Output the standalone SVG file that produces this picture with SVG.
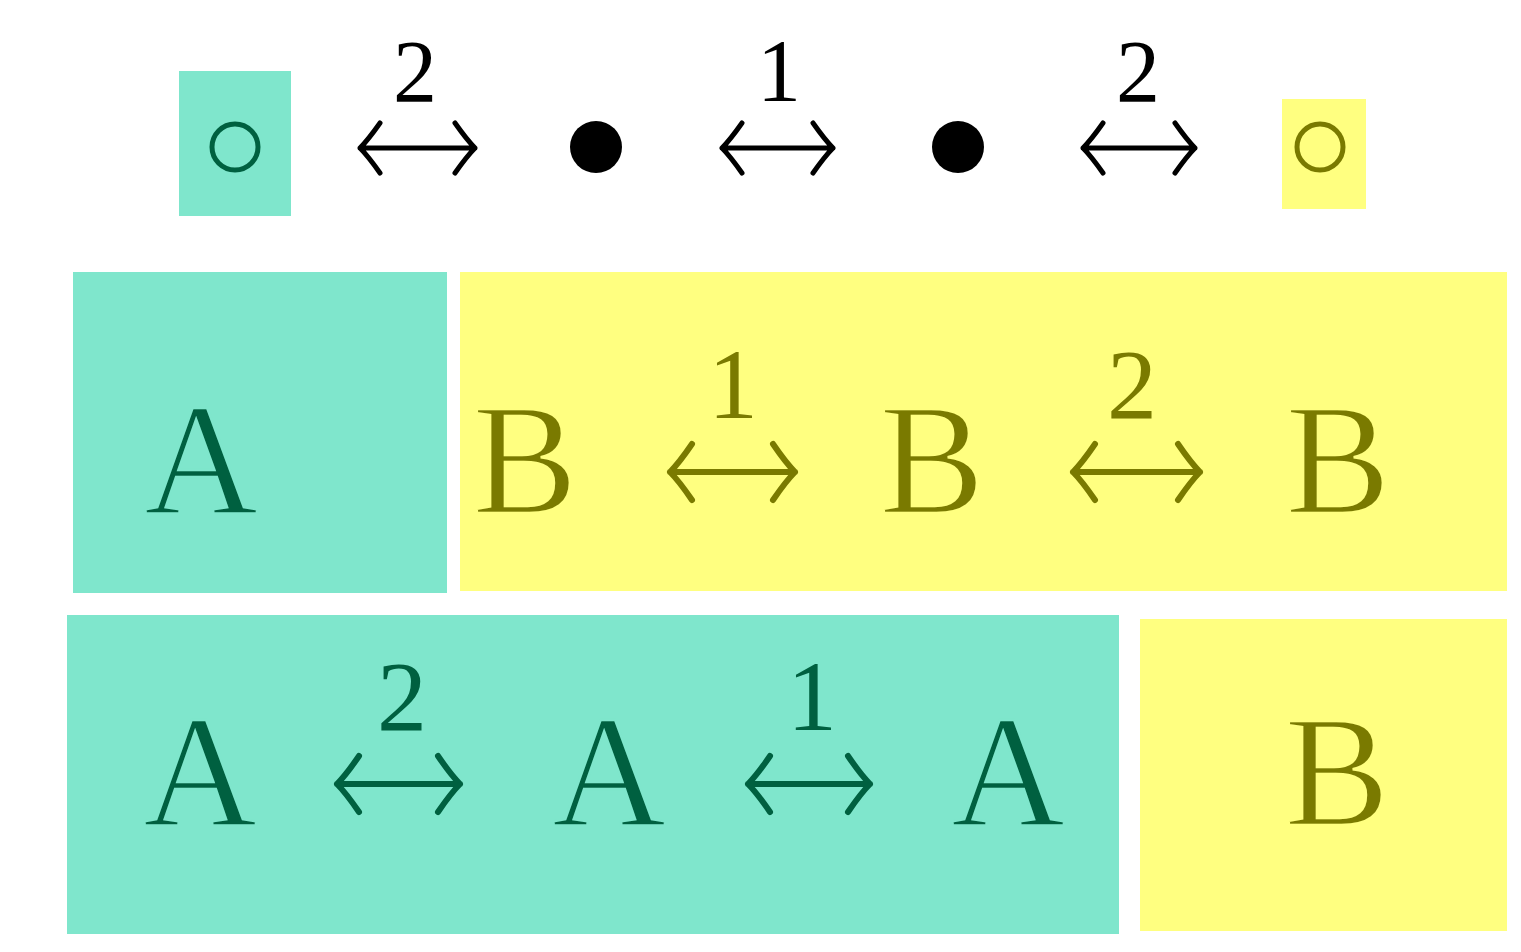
<svg xmlns="http://www.w3.org/2000/svg" width="1521" height="952" viewBox="0 0 1521 952">
<style>
.teal{fill:#7fe6cc}
.yel{fill:#ffff80}
.t{font-family:"Liberation Serif","Times New Roman",serif;text-anchor:middle}
.big{font-size:158px;stroke-width:2.5}
.lab{font-size:100px}
.top{font-size:88px}
.g{fill:#006040}
.o{fill:#7a7a00}
.big.g{stroke:#7fe6cc}
.big.o{stroke:#ffff80}
.k{fill:#000}
.arr{fill:none;stroke-linecap:round;stroke-linejoin:round}
.ag{stroke:#006040;stroke-width:6}
.ao{stroke:#7a7a00;stroke-width:6}
.ak{stroke:#000;stroke-width:5}
</style>
<rect width="1521" height="952" fill="#fff"/>
<g id="top-teal">
  <rect class="teal" x="179" y="71" width="112" height="145"/>
  <circle cx="235" cy="147" r="23" fill="none" stroke="#006040" stroke-width="5"/>
</g>
<g id="dot1"><circle cx="596" cy="147" r="26" fill="#000"/></g>
<g id="dot2"><circle cx="958" cy="147" r="26" fill="#000"/></g>
<g id="top-yellow">
  <rect class="yel" x="1282" y="99" width="84" height="110"/>
  <circle cx="1320" cy="147" r="23" fill="none" stroke="#7a7a00" stroke-width="5"/>
</g>
<g id="boxA1">
  <rect class="teal" x="73" y="272" width="374" height="321"/>
  <text class="t big g" x="201" y="513">A</text>
</g>
<g id="boxB1">
  <rect class="yel" x="460" y="272" width="1047" height="319"/>
  <text class="t big o" x="525" y="513">B</text>
  <text class="t big o" x="932" y="513">B</text>
  <text class="t big o" x="1338" y="513">B</text>
</g>
<g id="boxA2">
  <rect class="teal" x="67" y="615" width="1052" height="319"/>
  <text class="t big g" x="200" y="825">A</text>
  <text class="t big g" x="609" y="825">A</text>
  <text class="t big g" x="1008" y="825">A</text>
</g>
<g id="boxB2">
  <rect class="yel" x="1140" y="619" width="367" height="312"/>
  <text class="t big o" x="1337" y="825">B</text>
</g>
<g id="connectors">
  <path class="arr ak" d="M360,148 H475 M380,123 Q368,140 360,148 Q368,156 380,173 M455,123 Q467,140 475,148 Q467,156 455,173"/>
  <text class="t top k" x="415" y="101">2</text>
  <path class="arr ak" d="M722,148 H833 M742,123 Q730,140 722,148 Q730,156 742,173 M813,123 Q825,140 833,148 Q825,156 813,173"/>
  <text class="t top k" x="779" y="100">1</text>
  <path class="arr ak" d="M1083,148 H1195 M1103,123 Q1091,140 1083,148 Q1091,156 1103,173 M1175,123 Q1187,140 1195,148 Q1187,156 1175,173"/>
  <text class="t top k" x="1138" y="101">2</text>

  <path class="arr ao" d="M670,472 H795 M692,444 Q679,463 670,472 Q679,481 692,500 M773,444 Q786,463 795,472 Q786,481 773,500"/>
  <text class="t lab o" x="733" y="418">1</text>
  <path class="arr ao" d="M1073,472 H1200 M1095,444 Q1082,463 1073,472 Q1082,481 1095,500 M1178,444 Q1191,463 1200,472 Q1191,481 1178,500"/>
  <text class="t lab o" x="1132" y="418">2</text>

  <path class="arr ag" d="M337,784 H460 M359,756 Q346,775 337,784 Q346,793 359,812 M438,756 Q451,775 460,784 Q451,793 438,812"/>
  <text class="t lab g" x="402" y="730">2</text>
  <path class="arr ag" d="M748,784 H870 M770,756 Q757,775 748,784 Q757,793 770,812 M848,756 Q861,775 870,784 Q861,793 848,812"/>
  <text class="t lab g" x="812" y="730">1</text>
</g>
</svg>
